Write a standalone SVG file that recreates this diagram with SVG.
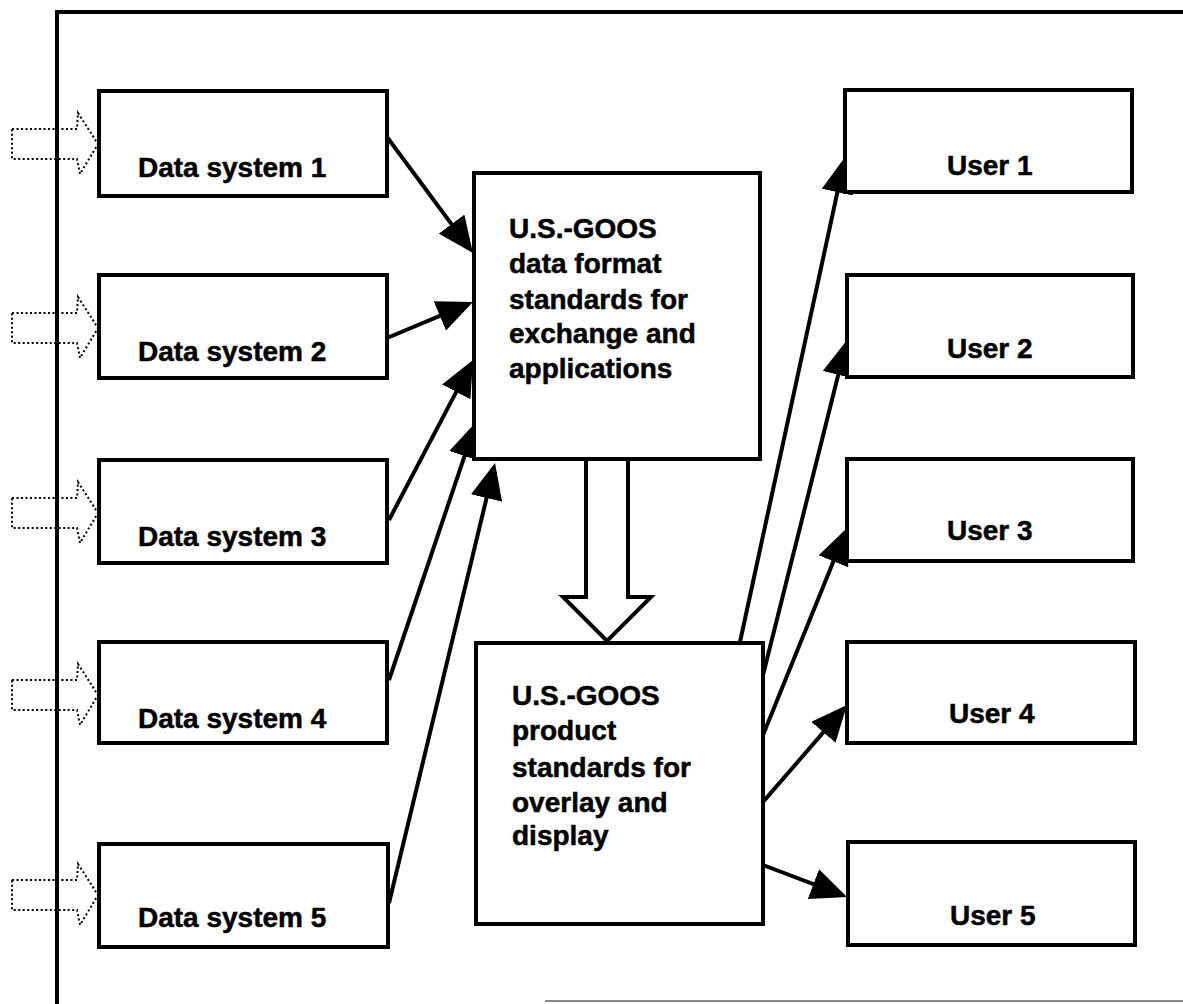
<svg xmlns="http://www.w3.org/2000/svg" xmlns:xlink="http://www.w3.org/1999/xlink" width="1183" height="1004" viewBox="0 0 1183 1004">
<style>
.box{fill:#fff;stroke:#000;stroke-width:4}
.lbl{font-family:"Liberation Sans",Arial,sans-serif;font-weight:bold;font-size:28px;fill:#000;stroke:#000;stroke-width:0.5}
.conn{stroke:#000;stroke-width:4;fill:none;marker-end:url(#ah)}
.dot{fill:none;stroke:#000;stroke-width:2;stroke-dasharray:2 2.5}
.frame{stroke:#000;stroke-width:4;fill:none}
</style>
<defs>
<marker id="ah" markerUnits="userSpaceOnUse" markerWidth="36" markerHeight="32" viewBox="0 0 36 32" refX="24" refY="16" orient="auto">
<path d="M0,0 L36,16 L0,32 Z" fill="#000"/>
</marker>
<path id="din" d="M12,-15 H77 L78,-31 L98,0 L80,30 L77,15 H12 Z"/>
</defs>
<rect width="1183" height="1004" fill="#fff"/>
<g id="frame">
<path class="frame" d="M57,1004 V12 H1183"/>
<path d="M545,1001 H1183" stroke="#888" stroke-width="2"/>
</g>
<g id="connectors">
<use href="#din" class="dot" x="0" y="144"/>
<use href="#din" class="dot" x="0" y="328"/>
<use href="#din" class="dot" x="0" y="513"/>
<use href="#din" class="dot" x="0" y="695"/>
<use href="#din" class="dot" x="0" y="895"/>
<line class="conn" x1="387" y1="137" x2="465.8" y2="243.4"/>
<line class="conn" x1="387" y1="338" x2="461.9" y2="306.6"/>
<line class="conn" x1="389" y1="520" x2="467.4" y2="370.6"/>
<line class="conn" x1="389" y1="680" x2="472.2" y2="433.4"/>
<line class="conn" x1="389" y1="903" x2="492.2" y2="474.7"/>
<line class="conn" x1="740" y1="642" x2="842.5" y2="168.7"/>
<line class="conn" x1="763" y1="675" x2="844.1" y2="351.6"/>
<line class="conn" x1="763" y1="735" x2="842.5" y2="539.1"/>
<line class="conn" x1="763" y1="802" x2="839.1" y2="714.1"/>
<line class="conn" x1="763" y1="865" x2="835.8" y2="892.7"/>
<path id="blockarrow" d="M586,459 V597 H563 L607,641 L651,597 H628 V459" fill="#fff" stroke="#000" stroke-width="4" stroke-linejoin="miter"/>
</g>
<g id="ds1"><rect class="box" x="99" y="91" width="288" height="105"/><text class="lbl" x="138" y="177">Data system 1</text></g>
<g id="ds2"><rect class="box" x="99" y="275" width="288" height="103"/><text class="lbl" x="138" y="361">Data system 2</text></g>
<g id="ds3"><rect class="box" x="99" y="460" width="288" height="103"/><text class="lbl" x="138" y="546">Data system 3</text></g>
<g id="ds4"><rect class="box" x="99" y="642" width="288" height="101"/><text class="lbl" x="138" y="728">Data system 4</text></g>
<g id="ds5"><rect class="box" x="99" y="844" width="289" height="103"/><text class="lbl" x="138" y="927">Data system 5</text></g>
<g id="dataformat"><rect class="box" x="474" y="173" width="286" height="286"/>
<text class="lbl" x="509" y="238">U.S.-GOOS</text>
<text class="lbl" x="509" y="273">data format</text>
<text class="lbl" x="509" y="309">standards for</text>
<text class="lbl" x="509" y="343">exchange and</text>
<text class="lbl" x="509" y="378">applications</text></g>
<g id="product"><rect class="box" x="476" y="643" width="287" height="281"/>
<text class="lbl" x="512" y="705">U.S.-GOOS</text>
<text class="lbl" x="512" y="740">product</text>
<text class="lbl" x="512" y="777">standards for</text>
<text class="lbl" x="512" y="812">overlay and</text>
<text class="lbl" x="512" y="845">display</text></g>
<g id="user1"><rect class="box" x="845" y="90" width="287" height="102"/><text class="lbl" x="947" y="175">User 1</text></g>
<g id="user2"><rect class="box" x="847" y="275" width="286" height="102"/><text class="lbl" x="947" y="358">User 2</text></g>
<g id="user3"><rect class="box" x="847" y="459" width="286" height="102"/><text class="lbl" x="947" y="540">User 3</text></g>
<g id="user4"><rect class="box" x="847" y="642" width="288" height="101"/><text class="lbl" x="949" y="723">User 4</text></g>
<g id="user5"><rect class="box" x="848" y="842" width="287" height="103"/><text class="lbl" x="950" y="925">User 5</text></g>
</svg>
